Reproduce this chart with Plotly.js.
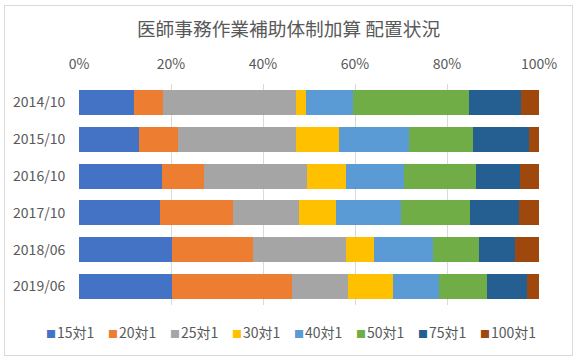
<!DOCTYPE html>
<html>
<head>
<meta charset="utf-8">
<script src="https://cdn.plot.ly/plotly-3.0.1.min.js"></script>
<style>
  html, body { margin: 0; padding: 0; background: #fff; }
  #wrap { position: relative; width: 577px; height: 361px; }
  #chart { width: 577px; height: 361px; }
  #frame { position: absolute; left: 4px; top: 5px; width: 567px; height: 349px;
           border: 1px solid #D9D9D9; pointer-events: none; }
</style>
</head>
<body>
<div id="wrap"><div id="chart"></div><div id="frame"></div></div>
<script>
var categories = ["2014/10", "2015/10", "2016/10", "2017/10", "2018/06", "2019/06"];
var seriesNames = ["15対1", "20対1", "25対1", "30対1", "40対1", "50対1", "75対1", "100対1"];
var s15  = [12.0, 13.1, 18.1, 17.5, 20.3, 20.3];
var s20  = [6.3, 8.4, 9.1, 15.9, 17.5, 26.0];
var s25  = [28.9, 25.8, 22.4, 14.4, 20.2, 12.1];
var s30  = [2.0, 9.2, 8.5, 8.1, 6.1, 9.8];
var s40  = [10.3, 15.3, 12.7, 14.0, 12.8, 10.0];
var s50  = [25.2, 13.9, 15.6, 15.1, 10.0, 10.5];
var s75  = [11.3, 12.2, 9.5, 10.7, 7.9, 8.7];
var s100 = [3.9, 2.2, 4.2, 4.3, 5.2, 2.6];
var tickVals = [0, 20, 40, 60, 80, 100];
var tickLabels = ["0%", "20%", "40%", "60%", "80%", "100%"];
var colors = ["#4472C4", "#ED7D31", "#A5A5A5", "#FFC000", "#5B9BD5", "#70AD47", "#255E91", "#9E480E"];

var allSeries = [s15, s20, s25, s30, s40, s50, s75, s100];
var font = "'Noto Sans CJK JP', 'Noto Sans', sans-serif";
var W = 577, H = 361;
var M = { l: 79, r: 38, t: 84, b: 56 };
var plotW = W - M.l - M.r, plotH = H - M.t - M.b;

var traces = allSeries.map(function (vals, i) {
  return {
    type: "bar",
    orientation: "h",
    name: seriesNames[i],
    x: vals,
    y: categories,
    marker: { color: colors[i], line: { width: 0 } },
    hoverinfo: "name+x"
  };
});

// legend drawn as annotations (Excel-style compact legend)
var legendLeftPx = 44, legendPitchPx = 62, legendCenterPx = 332;
var annotations = seriesNames.map(function (nm, i) {
  return {
    xref: "paper", yref: "paper",
    x: (legendLeftPx + legendPitchPx * i - M.l) / plotW,
    y: (H - M.b - legendCenterPx) / plotH,
    xanchor: "left", yanchor: "middle",
    showarrow: false,
    text: '<span style="color:' + colors[i] + ';font-size:10px">■</span><span style="font-size:4px"> </span>' + nm,
    font: { family: font, size: 14, color: "#595959" }
  };
});

var layout = {
  width: W,
  height: H,
  barmode: "stack",
  barnorm: "percent",
  bargap: 0.32,
  paper_bgcolor: "#ffffff",
  plot_bgcolor: "#ffffff",
  margin: M,
  font: { family: font, color: "#595959", size: 14 },
  title: {
    text: "医師事務作業補助体制加算 配置状況",
    font: { family: font, size: 18.7, color: "#595959" },
    x: 0.5, xanchor: "center",
    y: 0.918, yanchor: "middle", yref: "container"
  },
  xaxis: {
    side: "top",
    range: [0, 100],
    tickvals: tickVals,
    ticktext: tickLabels,
    showgrid: true,
    gridcolor: "#D9D9D9",
    gridwidth: 1,
    zeroline: false,
    showline: false,
    ticks: "outside",
    ticklen: 8,
    tickcolor: "rgba(0,0,0,0)",
    tickfont: { family: font, size: 14, color: "#595959" },
    fixedrange: true
  },
  yaxis: {
    autorange: "reversed",
    type: "category",
    showgrid: false,
    zeroline: false,
    showline: false,
    ticks: "outside",
    ticklen: 10,
    tickcolor: "rgba(0,0,0,0)",
    tickfont: { family: font, size: 14, color: "#595959" },
    fixedrange: true
  },
  showlegend: false,
  annotations: annotations
};

Plotly.newPlot("chart", traces, layout, { displayModeBar: false, staticPlot: true });
</script>
</body>
</html>
